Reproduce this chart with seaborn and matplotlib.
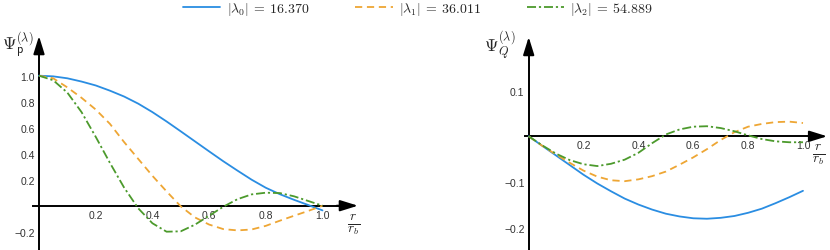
import numpy as np
import pandas as pd
import matplotlib
matplotlib.use("Agg")
import matplotlib.pyplot as plt
import seaborn as sns
from matplotlib.ticker import FixedLocator, MultipleLocator, FixedFormatter

sns.set_theme(style="white")
plt.rcParams['font.family'] = ['Liberation Sans', 'DejaVu Sans']
plt.rcParams['mathtext.fontset'] = 'cm'

# ---------------- data ----------------
r = [0.0, 0.05, 0.1, 0.15, 0.2, 0.25, 0.3, 0.35, 0.4, 0.45, 0.5,
     0.55, 0.6, 0.65, 0.7, 0.75, 0.8, 0.85, 0.9, 0.95, 1.0]

series_labels = [r'$|\lambda_0|\:=\:16.370$', r'$|\lambda_1|\:=\:36.011$', r'$|\lambda_2|\:=\:54.889$']

psi_p_0 = [1.0, 0.995, 0.98, 0.955, 0.925, 0.885, 0.84, 0.785, 0.72, 0.648, 0.572,
           0.495, 0.418, 0.342, 0.27, 0.2, 0.138, 0.088, 0.045, 0.005, -0.036]
psi_p_1 = [1.0, 0.98, 0.91, 0.83, 0.74, 0.63, 0.49, 0.36, 0.23, 0.11, -0.005,
           -0.09, -0.145, -0.18, -0.19, -0.183, -0.155, -0.115, -0.077, -0.04, 0.0]
psi_p_2 = [1.0, 0.965, 0.87, 0.72, 0.53, 0.33, 0.14, -0.02, -0.135, -0.2, -0.197,
           -0.146, -0.077, -0.008, 0.05, 0.087, 0.10, 0.097, 0.072, 0.036, 0.0]

psi_q_0 = [0.0, -0.021, -0.042, -0.063, -0.084, -0.103, -0.12, -0.136, -0.149, -0.16, -0.169,
           -0.175, -0.179, -0.18, -0.178, -0.174, -0.167, -0.158, -0.146, -0.133, -0.119]
psi_q_1 = [0.0, -0.021, -0.040, -0.058, -0.075, -0.088, -0.096, -0.098, -0.094, -0.087, -0.077,
           -0.062, -0.046, -0.028, -0.008, 0.009, 0.021, 0.027, 0.031, 0.032, 0.029]
psi_q_2 = [0.0, -0.020, -0.038, -0.052, -0.061, -0.065, -0.060, -0.051, -0.036, -0.015, 0.004,
           0.015, 0.021, 0.022, 0.018, 0.011, 0.002, -0.006, -0.011, -0.013, -0.013]

x_ticks = [0.2, 0.4, 0.6, 0.8, 1.0]
x_ticklabels = ['0.2', '0.4', '0.6', '0.8', '1.0']
yp_ticks = [-0.2, 0.2, 0.4, 0.6, 0.8, 1.0]
yp_ticklabels = ['\u22120.2', '0.2', '0.4', '0.6', '0.8', '1.0']
yq_ticks = [-0.2, -0.1, 0.1]
yq_ticklabels = ['\u22120.2', '\u22120.1', '0.1']

colors = ['#2a8de2', '#eea634', '#4c9a2c']
dash_styles = {series_labels[0]: '', series_labels[1]: (4, 2.6), series_labels[2]: (5, 1.6, 1.2, 1.6)}


def make_df(vals):
    rows = []
    for lab, v in zip(series_labels, vals):
        for xi, yi in zip(r, v):
            rows.append({'r': xi, 'psi': yi, 'series': lab})
    return pd.DataFrame(rows)


df_p = make_df([psi_p_0, psi_p_1, psi_p_2])
df_q = make_df([psi_q_0, psi_q_1, psi_q_2])

W, H = 830, 251
fig = plt.figure(figsize=(W / 100, H / 100), dpi=100)

# left panel: px = 39 + 283.5 x ; py = 206.7 - 130 y
axL = fig.add_axes([30 / W, 0, 330 / W, (251 - 35) / H])
axL.set_xlim((30 - 39) / 283.5, (360 - 39) / 283.5)
axL.set_ylim((206.7 - 251) / 130, (206.7 - 35) / 130)
# right panel: px = 528.7 + 274.3 x ; py = 137.3 - 458 y
axR = fig.add_axes([520 / W, 0, 310 / W, (251 - 35) / H])
axR.set_xlim((520 - 528.7) / 274.3, (830 - 528.7) / 274.3)
axR.set_ylim((137.3 - 251) / 458, (137.3 - 35) / 458)

for ax, df in ((axL, df_p), (axR, df_q)):
    sns.lineplot(data=df, x='r', y='psi', hue='series', style='series',
                 palette=colors, dashes=dash_styles, ax=ax, legend=False,
                 linewidth=1.3, sort=False, estimator=None)
    ax.set_xlabel('')
    ax.set_ylabel('')
    ax.patch.set_alpha(0)
    for s in ('top', 'right'):
        ax.spines[s].set_visible(False)
    ax.spines['left'].set_position(('data', 0))
    ax.spines['bottom'].set_position(('data', 0))
    for s in ('left', 'bottom'):
        ax.spines[s].set_color('black')
        ax.spines[s].set_linewidth(1.4)
        ax.spines[s].set_zorder(1)
    ax.tick_params(which='both', direction='in', color='#9a9a9a', width=0.6,
                   labelsize=7.5, labelcolor='#333333', pad=3)
    ax.tick_params(which='major', length=3.5)
    ax.tick_params(which='minor', length=2)
    ax.xaxis.set_major_locator(FixedLocator(x_ticks))
    ax.xaxis.set_major_formatter(FixedFormatter(x_ticklabels))
    ax.xaxis.set_minor_locator(MultipleLocator(0.05))

# left axis details
axL.spines['bottom'].set_bounds(-0.02, 1.08)
axL.spines['left'].set_bounds(axL.get_ylim()[0], 1.26)
axL.yaxis.set_major_locator(FixedLocator(yp_ticks))
axL.yaxis.set_major_formatter(FixedFormatter(yp_ticklabels))
axL.yaxis.set_minor_locator(MultipleLocator(0.05))
# right axis details
axR.spines['bottom'].set_bounds(-0.013, 1.04)
axR.spines['left'].set_bounds(axR.get_ylim()[0], 0.205)
axR.yaxis.set_major_locator(FixedLocator(yq_ticks))
axR.yaxis.set_major_formatter(FixedFormatter(yq_ticklabels))
axR.yaxis.set_minor_locator(MultipleLocator(0.02))

arrow_kw = dict(arrowstyle='-|>,head_length=0.9,head_width=0.28', color='black',
                lw=1.4, shrinkA=0, shrinkB=0)
axL.annotate('', xy=(1.125, 0), xytext=(1.05, 0), arrowprops=arrow_kw, annotation_clip=False)
axL.annotate('', xy=(0, 1.305), xytext=(0, 1.2), arrowprops=arrow_kw, annotation_clip=False)
axR.annotate('', xy=(1.088, 0), xytext=(1.02, 0), arrowprops=arrow_kw, annotation_clip=False)
axR.annotate('', xy=(0, 0.2168), xytext=(0, 0.19), arrowprops=arrow_kw, annotation_clip=False)

# axis labels
fig.text(2 / W, 1 - 46 / H, r'$\Psi_{\mathsf{p}}^{(\lambda)}$', fontsize=12.5, ha='left', va='center')
fig.text(500 / W, 1 - 46 / H, r'$\Psi_{Q}^{(\lambda)}$', fontsize=12.5, ha='center', va='center')
fig.text(354 / W, 1 - 225 / H, r'$\frac{r}{r_b}$', fontsize=14, ha='center', va='center')
fig.text(819 / W, 1 - 155 / H, r'$\frac{r}{r_b}$', fontsize=14, ha='center', va='center')

# legend
handles = axL.get_lines()[:3]
fig.legend(handles, series_labels, loc='center', bbox_to_anchor=(418 / W, 1 - 9 / H),
           ncol=3, frameon=False, fontsize=10, handlelength=2.7, handletextpad=0.45,
           columnspacing=3.3, borderpad=0, borderaxespad=0)

fig.savefig('out.png', dpi=100)
